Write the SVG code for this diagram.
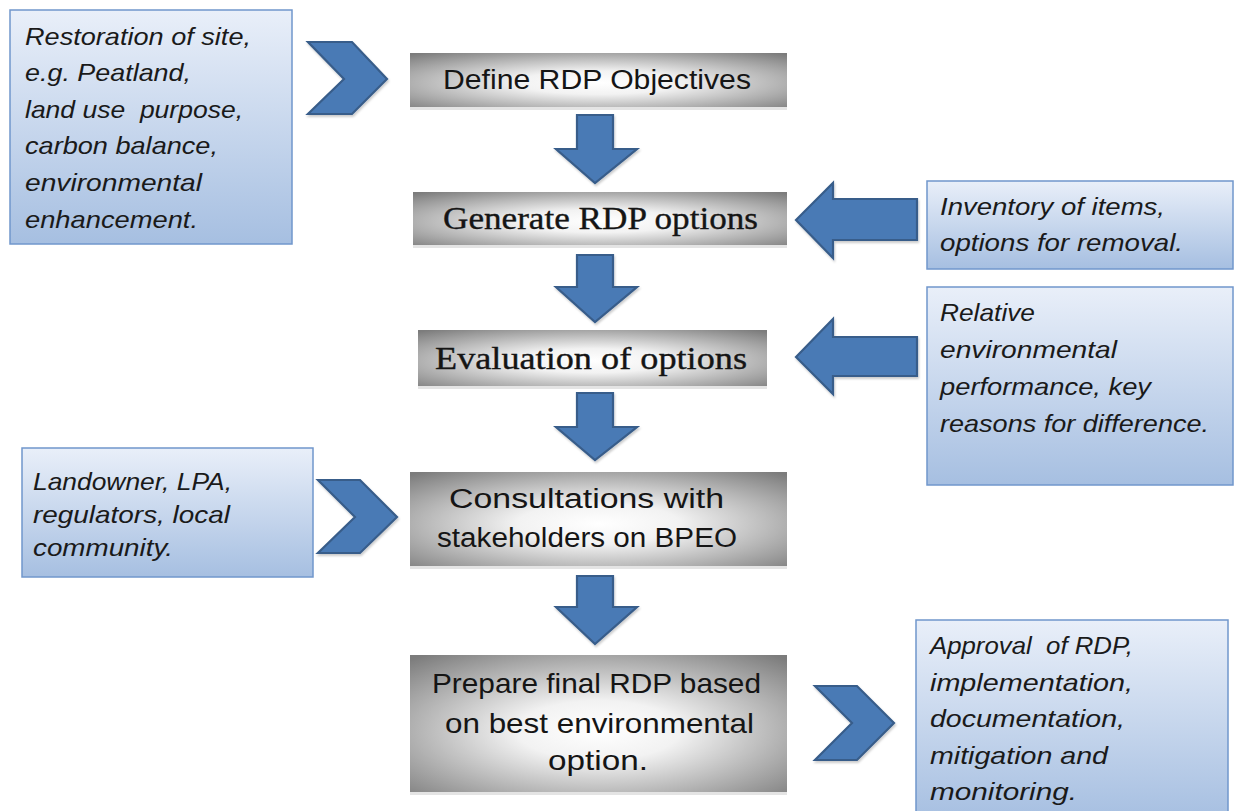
<svg xmlns="http://www.w3.org/2000/svg" width="1235" height="811" viewBox="0 0 1235 811">
  <defs>
    <linearGradient id="noteFill" x1="0" y1="0" x2="0" y2="1">
      <stop offset="0" stop-color="#e9eff9"/>
      <stop offset="1" stop-color="#a6bfe1"/>
    </linearGradient>
    <radialGradient id="stepFill" cx="0.5" cy="0.55" r="0.72">
      <stop offset="0" stop-color="#ffffff"/>
      <stop offset="0.3" stop-color="#f2f2f2"/>
      <stop offset="1" stop-color="#7c7c7c"/>
    </radialGradient>
    <filter id="soft" x="-10%" y="-10%" width="130%" height="130%">
      <feDropShadow dx="1" dy="2" stdDeviation="1" flood-color="#000" flood-opacity="0.2"/>
    </filter>
  </defs>
  <style>
    .note { fill: url(#noteFill); stroke: #7097cc; stroke-width: 1.5; }
    .step { fill: url(#stepFill); }
    .stepShadow { fill: #e4e4e4; }
    .arrow { fill: #4a7ab5; stroke: #385d8a; stroke-width: 2.2; stroke-linejoin: miter; filter: url(#soft); }
    .noteText { font-family: "Liberation Sans", Arial, sans-serif; font-style: italic; font-size: 24px; fill: #1a1a1a; }
    .stepSans { font-family: "Liberation Sans", Arial, sans-serif; fill: #151515; }
    .stepSerif { font-family: "Liberation Serif", "Times New Roman", serif; font-size: 31px; fill: #151515; stroke: #151515; stroke-width: 0.35; }
  </style>

  <!-- connectors: flow arrows and chevrons -->
  <g id="connectors">
    <polygon class="arrow" points="308,42 352,42 387,79 352,114 308,114 344,79"/>
    <polygon class="arrow" points="318,480 360,480 397,517 360,553 318,553 355,517"/>
    <polygon class="arrow" points="815,686 857,686 894,723 857,760 815,760 852,723"/>
    <polygon class="arrow" points="577,115 613,115 613,149 637,149 595,183 556,149 577,149"/>
    <polygon class="arrow" points="577,255 613,255 613,287 637,287 595,322 556,287 577,287"/>
    <polygon class="arrow" points="577,393 613,393 613,427 637,427 595,460 556,427 577,427"/>
    <polygon class="arrow" points="577,576 613,576 613,607 637,607 595,644 556,607 577,607"/>
    <polygon class="arrow" points="796,220 833,183 833,199 917,199 917,240 833,240 833,258"/>
    <polygon class="arrow" points="796,357 833,319 833,337 917,337 917,376 833,376 833,394"/>
  </g>

  <!-- side notes -->
  <g id="note-restoration">
    <rect class="note" x="10" y="10" width="282" height="234"/>
    <text class="noteText" x="25" y="45" textLength="226" lengthAdjust="spacingAndGlyphs">Restoration of site,</text>
    <text class="noteText" x="25" y="81" textLength="166" lengthAdjust="spacingAndGlyphs">e.g. Peatland,</text>
    <text class="noteText" x="25" y="118" textLength="218" lengthAdjust="spacingAndGlyphs" xml:space="preserve">land use  purpose,</text>
    <text class="noteText" x="25" y="154" textLength="193" lengthAdjust="spacingAndGlyphs">carbon balance,</text>
    <text class="noteText" x="25" y="191" textLength="177" lengthAdjust="spacingAndGlyphs">environmental</text>
    <text class="noteText" x="25" y="228" textLength="173" lengthAdjust="spacingAndGlyphs">enhancement.</text>
  </g>

  <g id="note-stakeholders">
    <rect class="note" x="22" y="448" width="291" height="129"/>
    <text class="noteText" x="33" y="490" textLength="199" lengthAdjust="spacingAndGlyphs">Landowner, LPA,</text>
    <text class="noteText" x="33" y="523" textLength="197" lengthAdjust="spacingAndGlyphs">regulators, local</text>
    <text class="noteText" x="33" y="556" textLength="140" lengthAdjust="spacingAndGlyphs">community.</text>
  </g>

  <g id="note-inventory">
    <rect class="note" x="927" y="181" width="306" height="88"/>
    <text class="noteText" x="940" y="215" textLength="225" lengthAdjust="spacingAndGlyphs">Inventory of items,</text>
    <text class="noteText" x="940" y="251" textLength="243" lengthAdjust="spacingAndGlyphs">options for removal.</text>
  </g>

  <g id="note-performance">
    <rect class="note" x="927" y="287" width="306" height="198"/>
    <text class="noteText" x="940" y="321" textLength="95" lengthAdjust="spacingAndGlyphs">Relative</text>
    <text class="noteText" x="940" y="358" textLength="177" lengthAdjust="spacingAndGlyphs">environmental</text>
    <text class="noteText" x="940" y="395" textLength="211" lengthAdjust="spacingAndGlyphs">performance, key</text>
    <text class="noteText" x="940" y="432" textLength="269" lengthAdjust="spacingAndGlyphs">reasons for difference.</text>
  </g>

  <g id="note-approval">
    <rect class="note" x="916" y="620" width="312" height="200"/>
    <text class="noteText" x="930" y="654" textLength="203" lengthAdjust="spacingAndGlyphs" xml:space="preserve">Approval  of RDP,</text>
    <text class="noteText" x="930" y="691" textLength="203" lengthAdjust="spacingAndGlyphs">implementation,</text>
    <text class="noteText" x="930" y="727" textLength="195" lengthAdjust="spacingAndGlyphs">documentation,</text>
    <text class="noteText" x="930" y="764" textLength="178" lengthAdjust="spacingAndGlyphs">mitigation and</text>
    <text class="noteText" x="930" y="800" textLength="147" lengthAdjust="spacingAndGlyphs">monitoring.</text>
  </g>

  <!-- main process steps -->
  <g id="step-define">
    <rect class="stepShadow" x="410" y="106" width="377" height="4"/>
    <rect class="step" x="410" y="53" width="377" height="54"/>
    <text class="stepSans" x="443" y="89" font-size="27" textLength="308" lengthAdjust="spacingAndGlyphs">Define RDP Objectives</text>
  </g>

  <g id="step-generate">
    <rect class="stepShadow" x="413" y="244" width="374" height="4"/>
    <rect class="step" x="413" y="192" width="374" height="53"/>
    <text class="stepSerif" x="443" y="229" textLength="315" lengthAdjust="spacingAndGlyphs">Generate RDP options</text>
  </g>

  <g id="step-evaluate">
    <rect class="stepShadow" x="418" y="385" width="349" height="4"/>
    <rect class="step" x="418" y="330" width="349" height="56"/>
    <text class="stepSerif" x="435" y="369" textLength="312" lengthAdjust="spacingAndGlyphs">Evaluation of options</text>
  </g>

  <g id="step-consult">
    <rect class="stepShadow" x="410" y="565" width="377" height="4"/>
    <rect class="step" x="410" y="472" width="377" height="94"/>
    <text class="stepSans" x="449" y="508" font-size="27" textLength="275" lengthAdjust="spacingAndGlyphs">Consultations with</text>
    <text class="stepSans" x="437" y="547" font-size="27" textLength="300" lengthAdjust="spacingAndGlyphs">stakeholders on BPEO</text>
  </g>

  <g id="step-prepare">
    <rect class="stepShadow" x="410" y="791" width="377" height="4"/>
    <rect class="step" x="410" y="655" width="377" height="137"/>
    <text class="stepSans" x="432" y="693" font-size="28" textLength="329" lengthAdjust="spacingAndGlyphs">Prepare final RDP based</text>
    <text class="stepSans" x="445" y="733" font-size="28" textLength="309" lengthAdjust="spacingAndGlyphs">on best environmental</text>
    <text class="stepSans" x="548" y="770" font-size="28" textLength="100" lengthAdjust="spacingAndGlyphs">option.</text>
  </g>
</svg>
